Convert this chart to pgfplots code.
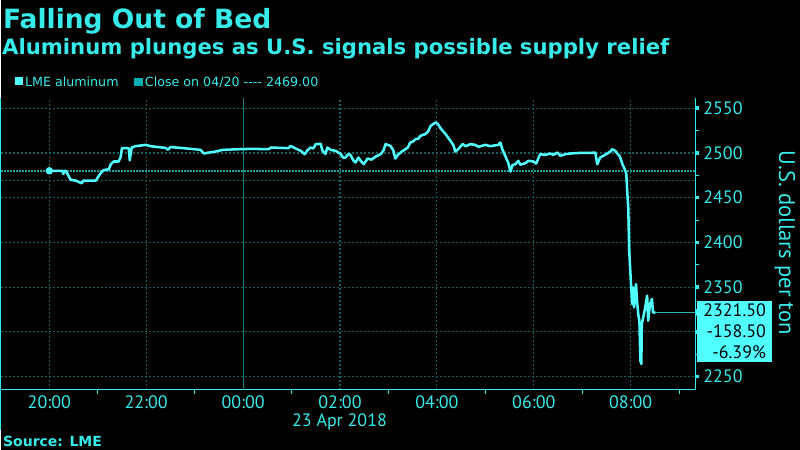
\documentclass[border=0pt]{standalone}
\usepackage{pgfplots}
\pgfplotsset{compat=1.18}
\usepackage{fontspec}
\setmainfont{PT Sans}
\newfontfamily\headfont{DejaVu Sans}

\definecolor{txt}{RGB}{55,235,235}
\definecolor{linec}{RGB}{80,255,255}
\definecolor{gridc}{RGB}{20,95,95}
\definecolor{divc}{RGB}{25,125,125}
\definecolor{refc}{RGB}{35,160,160}
\definecolor{closec}{RGB}{0,175,175}

\begin{document}
\begin{tikzpicture}[x=0.75pt,y=0.75pt]
% page background, 800 x 450 px
\fill[black] (0,0) rectangle (800,450);

% titles and legend
\node[anchor=base west, inner sep=0, text=txt, font=\headfont\bfseries\fontsize{19.9}{22}\selectfont] at (2,421.7) {Falling Out of Bed};
\node[anchor=base west, inner sep=0, text=txt, font=\headfont\bfseries\fontsize{15.9}{18}\selectfont] at (1,395) {Aluminum plunges as U.S. signals possible supply relief};
\fill[linec] (14,365) rectangle (21.7,373);
\node[anchor=base west, inner sep=0, text=txt, font=\headfont\fontsize{9.5}{11}\selectfont] at (24,363) {LME aluminum};
\fill[closec] (133,364) rectangle (142,372);
\node[anchor=base west, inner sep=0, text=txt, font=\headfont\fontsize{9.5}{11}\selectfont] at (144,363) {Close on 04/20 {-}{-}{-}{-} 2469.00};

\begin{axis}[
  at={(0,67)}, anchor=south west,
  scale only axis, width=521.25pt, height=219pt,
  xmin=-1, xmax=13.33, ymin=2235.5, ymax=2561.5,
  axis x line*=bottom, axis y line*=right,
  axis line style={txt, line width=0.8pt, -},
  xtick={0,2,...,12},
  xticklabels={20:00,22:00,00:00,02:00,04:00,06:00,08:00},
  minor xtick={-1,1,...,13},
  ytick={2250,2300,...,2550},
  yticklabels={2250,{},2350,2400,2450,2500,2550},
  minor ytick={2275,2325,...,2525},
  tick align=outside,
  major x tick style={draw=none},
  major y tick style={line width=2.6pt},
  major tick length=3pt, minor tick length=3pt,
  tick style={txt, line width=0.7pt},
  grid=major,
  major grid style={gridc, dash pattern=on 1.5pt off 1.5pt, line width=0.9pt},
  ticklabel style={text=txt, font=\fontsize{13.5}{15}\selectfont},
  xticklabel style={anchor=north, inner sep=0pt, yshift=-1.5pt},
  yticklabel style={anchor=west, inner sep=0pt, xshift=3pt},
  clip=false,
]
% day divider and left edge
\draw[divc, line width=0.8pt] (axis cs:4,2235.5) -- (axis cs:4,2561.5);
\draw[txt, line width=0.8pt] (rel axis cs:0,1) -- ([yshift=-30pt]rel axis cs:0,0);

% reference levels
\addplot[gridc, dash pattern=on 1.5pt off 1.5pt, line width=0.9pt] coordinates {(-1,2469)(13.33,2469)};
\addplot[refc, dash pattern=on 1.5pt off 0.75pt, line width=1.3pt] coordinates {(-1,2480)(13.33,2480)};
\addplot[refc!80!linec, line width=0.7pt] coordinates {(12.51,2321.5)(13.33,2321.5)};

% LME aluminum
\addplot[linec, line width=1.9pt, line join=round, mark=*, mark indices={1}, mark size=1.8pt, mark options={fill=linec, draw=linec}] coordinates {
(0,2480)(0.27,2480)(0.29,2476.5)(0.31,2480)(0.34,2480)(0.40,2474)(0.44,2470)
(0.55,2469)(0.67,2466)(0.70,2469)(0.80,2469)(0.96,2469)(1.00,2472.5)(1.06,2477.4)
(1.12,2480.8)(1.23,2481.8)(1.27,2487.4)(1.33,2490.4)(1.43,2490.4)(1.47,2494.8)
(1.50,2505.3)(1.62,2505.3)(1.64,2505)(1.66,2491.8)(1.70,2506)(1.78,2507.5)
(1.99,2509)(2.09,2507.5)(2.20,2506.8)(2.40,2505.6)(2.45,2503.5)(2.50,2506.5)
(2.71,2505.6)(2.92,2504.5)(3.12,2503.4)(3.19,2499.3)(3.25,2500)(3.43,2501.5)
(3.58,2503.4)(3.95,2504.2)(4.16,2504.5)(4.53,2504.2)(4.57,2506)(4.94,2505.3)
(4.98,2507.8)(5.10,2504.5)(5.19,2502.3)(5.27,2498.6)(5.33,2503)(5.39,2506)(5.45,2505)(5.50,2509.8)
(5.60,2510.1)(5.64,2502.3)(5.70,2498.9)(5.74,2506)(5.80,2503.5)(5.91,2502.3)(6.01,2498.9)
(6.07,2494.5)(6.11,2494.8)(6.18,2498.9)(6.22,2497.5)(6.27,2492)(6.32,2489.3)(6.38,2494.8)
(6.43,2491)(6.49,2487.4)(6.57,2493.7)(6.65,2492.5)(6.73,2495.6)(6.84,2498.6)(6.90,2503)(6.94,2509.8)(7.04,2507.9)
(7.10,2503)(7.14,2493.7)(7.20,2498)(7.25,2500.4)(7.35,2504.2)(7.40,2506)(7.45,2511.6)(7.50,2512.5)(7.56,2515.4)
(7.62,2516)(7.66,2519.1)(7.76,2521)(7.82,2524)(7.87,2530.2)(7.97,2533.9)(8.01,2533)(8.07,2527.9)
(8.18,2521)(8.28,2513.5)(8.34,2508.7)(8.38,2501.5)(8.44,2504.2)(8.53,2509.8)
(8.60,2507.5)(8.69,2509.8)(8.79,2509)(8.86,2506.8)(9.00,2509)(9.10,2507.5)(9.27,2509)
(9.31,2511.6)(9.35,2504.2)(9.41,2496.7)(9.47,2489.3)(9.52,2479.2)(9.56,2486.4)
(9.62,2487.4)(9.68,2491.2)(9.72,2486.8)(9.83,2488.6)(9.89,2491.2)(9.99,2490.4)
(10.05,2488.2)(10.13,2498.6)(10.24,2497.8)(10.34,2499.3)(10.40,2497.8)(10.49,2500.4)
(10.55,2496.7)(10.65,2498.6)(10.75,2499.3)(10.86,2499.7)(10.96,2500)(11.17,2500)
(11.27,2500.4)(11.31,2487.4)(11.37,2494.8)(11.47,2497.8)(11.58,2501.5)(11.62,2504.2)
(11.68,2502.3)(11.78,2495.6)(11.83,2487.4)(11.89,2480)(11.91,2476.2)(11.93,2455.7)
(11.95,2439)(11.97,2390.7)(12.01,2349.7)(12.03,2331.2)(12.05,2349.7)(12.07,2327.4)
(12.11,2353.4)(12.13,2334.8)(12.16,2318.1)(12.18,2312.5)(12.20,2267.9)(12.22,2264.2)
(12.23,2308.8)(12.26,2316.2)(12.30,2327.4)(12.34,2340.4)(12.36,2312.5)(12.40,2331.2)
(12.44,2336.8)(12.46,2321.8)(12.51,2321.5)
};

% last value box
\fill[linec] (axis cs:13.33,2321.5) -- ++(2.25pt,4.5pt) -- ++(0pt,-9pt) -- cycle;
\node[fill=linec, text=black, anchor=north west, align=right, inner xsep=2.5pt, inner ysep=2pt,
      minimum width=56pt, font=\fontsize{13.5}{16}\selectfont]
  at ([xshift=1.5pt, yshift=9pt]axis cs:13.33,2321.5) {2321.50\\-158.50\\-6.39\%};
\end{axis}

\node[anchor=base, text=txt, font=\fontsize{13.5}{15}\selectfont] at (339,23) {23 Apr 2018};
\node[rotate=-90, text=txt, font=\fontsize{17}{19}\selectfont] at (785,207) {U.S. dollars per ton};
\node[anchor=base west, inner sep=0, text=txt, font=\headfont\bfseries\fontsize{10.5}{12}\selectfont] at (2,3) {Source: LME};
\end{tikzpicture}
\end{document}
